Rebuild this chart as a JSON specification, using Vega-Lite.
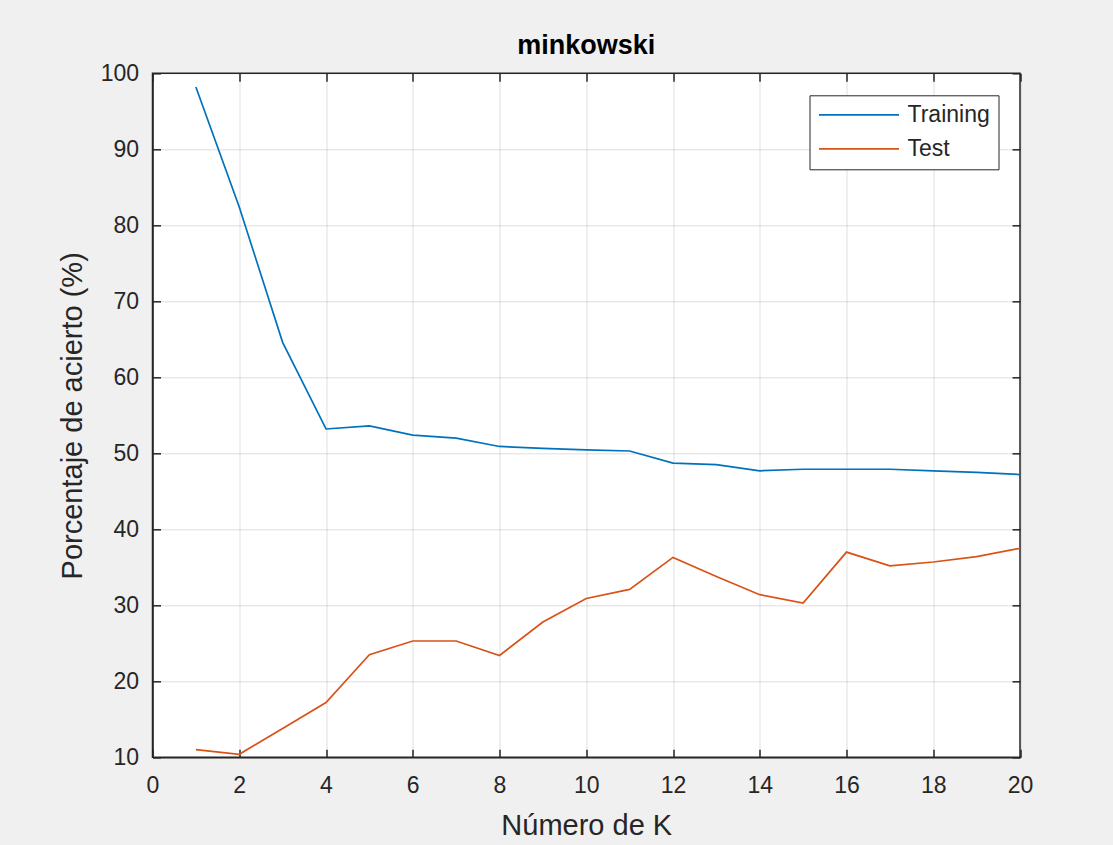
{
  "$schema": "https://vega.github.io/schema/vega-lite/v6.json",
  "autosize": {"type": "none"},
  "padding": {"left": 152.5, "top": 73.3, "right": 93, "bottom": 87.7},
  "width": 867.5,
  "height": 684,
  "background": "#f0f0f0",
  "title": {"text": "minkowski", "font": "Liberation Sans", "fontSize": 27, "fontWeight": "bold", "color": "#000000", "anchor": "middle", "offset": 2},
  "config": {
    "view": {"fill": "#ffffff", "stroke": "#262626", "strokeWidth": 1.5},
    "axis": {
      "labelFont": "Liberation Sans", "labelFontSize": 23, "labelColor": "#262626", "labelFlush": false,
      "titleFont": "Liberation Sans", "titleFontSize": 29, "titleColor": "#262626", "titleFontWeight": "normal",
      "gridColor": "#262626", "gridOpacity": 0.15, "gridWidth": 1,
      "domainColor": "#262626", "domainWidth": 1.5,
      "tickColor": "#262626", "tickWidth": 1.5, "tickSize": -8
    }
  },
  "data": {"values": [
    {"k": 1, "serie": "Training", "v": 98.2},
    {"k": 2, "serie": "Training", "v": 82.4},
    {"k": 3, "serie": "Training", "v": 64.6},
    {"k": 4, "serie": "Training", "v": 53.2},
    {"k": 5, "serie": "Training", "v": 53.6},
    {"k": 6, "serie": "Training", "v": 52.4},
    {"k": 7, "serie": "Training", "v": 52.0},
    {"k": 8, "serie": "Training", "v": 50.9},
    {"k": 9, "serie": "Training", "v": 50.65},
    {"k": 10, "serie": "Training", "v": 50.45},
    {"k": 11, "serie": "Training", "v": 50.3},
    {"k": 12, "serie": "Training", "v": 48.7},
    {"k": 13, "serie": "Training", "v": 48.5},
    {"k": 14, "serie": "Training", "v": 47.7},
    {"k": 15, "serie": "Training", "v": 47.9},
    {"k": 16, "serie": "Training", "v": 47.9},
    {"k": 17, "serie": "Training", "v": 47.9},
    {"k": 18, "serie": "Training", "v": 47.7},
    {"k": 19, "serie": "Training", "v": 47.5},
    {"k": 20, "serie": "Training", "v": 47.2},
    {"k": 1, "serie": "Test", "v": 11.0},
    {"k": 2, "serie": "Test", "v": 10.4},
    {"k": 3, "serie": "Test", "v": 13.8},
    {"k": 4, "serie": "Test", "v": 17.2},
    {"k": 5, "serie": "Test", "v": 23.5},
    {"k": 6, "serie": "Test", "v": 25.3},
    {"k": 7, "serie": "Test", "v": 25.3},
    {"k": 8, "serie": "Test", "v": 23.4},
    {"k": 9, "serie": "Test", "v": 27.8},
    {"k": 10, "serie": "Test", "v": 30.9},
    {"k": 11, "serie": "Test", "v": 32.1},
    {"k": 12, "serie": "Test", "v": 36.3},
    {"k": 13, "serie": "Test", "v": 33.8},
    {"k": 14, "serie": "Test", "v": 31.4},
    {"k": 15, "serie": "Test", "v": 30.3},
    {"k": 16, "serie": "Test", "v": 37.0},
    {"k": 17, "serie": "Test", "v": 35.2},
    {"k": 18, "serie": "Test", "v": 35.7},
    {"k": 19, "serie": "Test", "v": 36.4},
    {"k": 20, "serie": "Test", "v": 37.5}
  ]},
  "layer": [
    {
      "mark": {"type": "line", "strokeWidth": 1.7, "clip": true},
      "encoding": {
        "x": {"field": "k", "type": "quantitative", "scale": {"domain": [0, 20], "nice": false},
              "axis": {"orient": "bottom", "values": [0,2,4,6,8,10,12,14,16,18,20], "title": "Número de K", "labelPadding": 25, "titlePadding": 14}},
        "y": {"field": "v", "type": "quantitative", "scale": {"domain": [10, 100], "nice": false, "zero": false},
              "axis": {"orient": "left", "values": [10,20,30,40,50,60,70,80,90,100], "title": "Porcentaje de acierto (%)", "labelPadding": 22, "titlePadding": 13}},
        "color": {"field": "serie", "type": "nominal",
                  "scale": {"domain": ["Training", "Test"], "range": ["#0072BD", "#D95319"]},
                  "legend": {"title": null, "orient": "top-right", "offset": 22, "symbolType": "M-1,0H7", "symbolSize": 400, "symbolStrokeWidth": 1.7, "labelOffset": 67, "labelFont": "Liberation Sans", "labelFontSize": 23, "labelColor": "#262626", "rowPadding": 10, "strokeColor": "#262626", "fillColor": "#ffffff", "padding": 8}}
      }
    },
    {
      "mark": {"type": "line", "opacity": 0},
      "encoding": {
        "x": {"field": "k", "type": "quantitative", "axis": {"orient": "top", "values": [0,2,4,6,8,10,12,14,16,18,20], "labels": false, "title": null, "grid": false, "domain": false}},
        "y": {"field": "v", "type": "quantitative", "axis": {"orient": "right", "values": [10,20,30,40,50,60,70,80,90,100], "labels": false, "title": null, "grid": false, "domain": false}}
      }
    }
  ]
}
